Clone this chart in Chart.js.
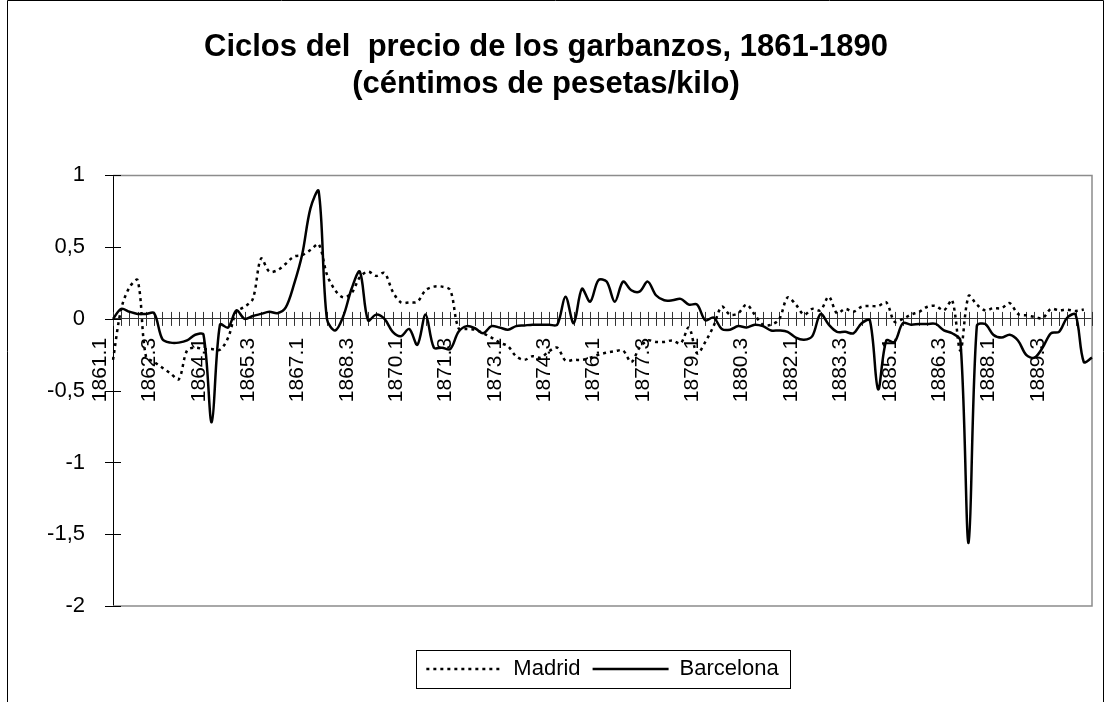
<!DOCTYPE html>
<html>
<head>
<meta charset="utf-8">
<title>Ciclos del precio de los garbanzos, 1861-1890</title>
<script src="https://cdn.jsdelivr.net/npm/chart.js@4.4.0/dist/chart.umd.min.js"></script>
<style>
    html, body { margin: 0; padding: 0; background: #fff; }
    #contenedor { width: 1105px; height: 702px; }
</style>
</head>
<body>
<div id="contenedor"><canvas id="grafico"></canvas></div>
<script>
    // trimestres 1861.1 ... 1890.4
    let anos = [];
    for (let a = 1861; a <= 1890; a++) anos.push(a);
    let trimestres = [];
    anos.forEach(a => { for (let t = 1; t <= 4; t++) trimestres.push(a + '.' + t); });

    // etiquetas que se ven en el eje (cada 6 trimestres)
    const etiquetasEje = ['1861.1', '1862.3', '1864.1', '1865.3', '1867.1', '1868.3', '1870.1',
        '1871.3', '1873.1', '1874.3', '1876.1', '1877.3', '1879.1', '1880.3', '1882.1',
        '1883.3', '1885.1', '1886.3', '1888.1', '1889.3'];

    const marcasY = [-2, -1.5, -1, -0.5, 0, 0.5, 1];

    const madrid = [
        -0.285, 0.07, 0.22, 0.27, -0.26, -0.3, -0.34, -0.38, -0.42, -0.22,
        -0.2, -0.21, -0.21, -0.215, -0.13, 0.05, 0.085, 0.14, 0.42, 0.33,
        0.34, 0.385, 0.435, 0.445, 0.48, 0.52, 0.31, 0.2, 0.15, 0.18,
        0.29, 0.33, 0.3, 0.32, 0.19, 0.115, 0.115, 0.12, 0.2, 0.225,
        0.225, 0.2, -0.065, -0.07, -0.075, -0.1, -0.13, -0.165, -0.19, -0.26,
        -0.285, -0.26, -0.27, -0.225, -0.2, -0.29, -0.285, -0.285, -0.27, -0.25,
        -0.235, -0.225, -0.22, -0.3, -0.2, -0.15, -0.16, -0.16, -0.15, -0.17,
        -0.06, -0.24, -0.16, -0.05, 0.085, 0.03, 0.04, 0.1, 0.03, -0.04,
        -0.04, 0.0, 0.15, 0.1, 0.03, 0.07, 0.06, 0.155, 0.04, 0.07,
        0.05, 0.085, 0.09, 0.09, 0.115, -0.02, 0.0, 0.03, 0.05, 0.085,
        0.09, 0.06, 0.13, -0.22, 0.16, 0.1, 0.06, 0.075, 0.075, 0.11,
        0.035, 0.025, 0.015, 0.005, 0.07, 0.06, 0.065, 0.055, 0.065, null
    ];

    const barcelona = [
        0, 0.07, 0.05, 0.035, 0.035, 0.04, -0.14, -0.165, -0.165, -0.15,
        -0.11, -0.11, -0.72, -0.04, -0.06, 0.06, 0.0, 0.02, 0.035, 0.05,
        0.04, 0.08, 0.24, 0.45, 0.77, 0.89, 0.0, -0.08, 0.02, 0.21,
        0.33, -0.01, 0.03, 0.0, -0.09, -0.12, -0.07, -0.18, 0.03, -0.2,
        -0.2, -0.21, -0.09, -0.05, -0.065, -0.1, -0.05, -0.06, -0.075, -0.05,
        -0.045, -0.04, -0.04, -0.04, -0.04, 0.155, -0.03, 0.21, 0.12, 0.27,
        0.26, 0.12, 0.26, 0.2, 0.19, 0.26, 0.165, 0.13, 0.13, 0.14,
        0.1, 0.1, -0.01, 0.01, -0.07, -0.075, -0.05, -0.06, -0.04, -0.05,
        -0.08, -0.08, -0.09, -0.13, -0.145, -0.12, 0.035, -0.04, -0.09, -0.09,
        -0.1, -0.03, -0.01, -0.49, -0.15, -0.16, -0.03, -0.04, -0.035, -0.035,
        -0.035, -0.08, -0.1, -0.15, -1.56, -0.05, -0.035, -0.11, -0.13, -0.11,
        -0.15, -0.25, -0.27, -0.2, -0.1, -0.09, 0.01, 0.03, -0.3, -0.27
    ];

    Chart.defaults.font.family = '"Liberation Sans", Arial, sans-serif';
    Chart.defaults.color = '#000';

    // marco del área de trazado, marcas cruzadas de los ejes, recuadro de leyenda y borde exterior
    const marco = {
        id: 'marco',
        beforeDatasetsDraw(chart) {
            const { ctx, chartArea: a, scales: { x, y } } = chart;
            ctx.save();
            ctx.strokeStyle = '#8c8c8c';
            ctx.lineWidth = 1.5;
            ctx.beginPath();
            ctx.moveTo(a.left, a.top); ctx.lineTo(a.right, a.top);
            ctx.lineTo(a.right, a.bottom); ctx.lineTo(a.left, a.bottom);
            ctx.stroke();

            const y0 = y.getPixelForValue(0);
            ctx.strokeStyle = '#333';
            ctx.lineWidth = 1;
            ctx.beginPath();
            for (let i = 0; i < trimestres.length; i++) {
                const px = Math.round(x.getPixelForValue(i)) + 0.5;
                ctx.moveTo(px, y0 - 7);
                ctx.lineTo(px, y0 + 7);
            }
            ctx.stroke();

            ctx.strokeStyle = '#000';
            ctx.beginPath();
            marcasY.forEach(v => {
                const py = Math.round(y.getPixelForValue(v)) + 0.5;
                ctx.moveTo(a.left - 8, py);
                ctx.lineTo(a.left + 8, py);
            });
            ctx.stroke();
            ctx.restore();
        },
        afterDraw(chart) {
            const ctx = chart.ctx;
            const cajas = chart.legend.legendHitBoxes;
            let izq = Math.min(...cajas.map(c => c.left));
            let der = Math.max(...cajas.map(c => c.left + c.width));
            ctx.save();
            ctx.strokeStyle = '#000';
            ctx.lineWidth = 1;
            ctx.strokeRect(Math.round(izq - 10) + 0.5, Math.round(cajas[0].top - 8) + 0.5,
                Math.round(der - izq + 22), Math.round(cajas[0].height + 16));
            // borde exterior del gráfico
            ctx.beginPath();
            ctx.moveTo(7.5, 702); ctx.lineTo(7.5, 0.5);
            ctx.lineTo(1103.5, 0.5); ctx.lineTo(1103.5, 702);
            ctx.stroke();
            ctx.restore();
        }
    };

    var config = {
        type: 'line',
        data: {
            labels: trimestres,
            datasets: [{
                label: 'Madrid',
                data: madrid,
                borderColor: '#000',
                backgroundColor: '#000',
                borderWidth: 2.5,
                borderDash: [3, 4],
                pointRadius: 0,
                pointStyle: 'line',
                tension: 0.33,
                spanGaps: false
            }, {
                label: 'Barcelona',
                data: barcelona,
                borderColor: '#000',
                backgroundColor: '#000',
                borderWidth: 2.5,
                pointRadius: 0,
                pointStyle: 'line',
                tension: 0.33
            }]
        },
        options: {
            responsive: true,
            maintainAspectRatio: false,
            animation: false,
            layout: { padding: { top: 0, left: 0, right: 13, bottom: 12 } },
            plugins: {
                title: {
                    display: true,
                    text: ['Ciclos del  precio de los garbanzos, 1861-1890', '(céntimos de pesetas/kilo)'],
                    font: { size: 31, weight: 'bold', lineHeight: 1.2 },
                    color: '#000',
                    padding: { top: 29, bottom: 72 }
                },
                legend: {
                    position: 'bottom',
                    fullSize: false,
                    title: { display: true, text: '', font: { size: 10 }, padding: { top: 28, bottom: 0 } },
                    labels: {
                        usePointStyle: true,
                        pointStyle: 'line',
                        pointStyleWidth: 76,
                        font: { size: 22 },
                        padding: 12,
                        color: '#000',
                        generateLabels: function (chart) {
                            const items = Chart.defaults.plugins.legend.labels.generateLabels(chart);
                            items.forEach(it => {
                                it.lineDash = chart.data.datasets[it.datasetIndex].borderDash || [];
                            });
                            return items;
                        }
                    }
                },
                tooltip: { enabled: false }
            },
            scales: {
                x: {
                    type: 'category',
                    position: { y: 0 },
                    offset: false,
                    grid: { display: false },
                    border: { display: true, color: '#333', width: 1 },
                    ticks: {
                        autoSkip: false,
                        minRotation: 90,
                        maxRotation: 90,
                        padding: 11,
                        labelOffset: -13,
                        font: { size: 21 },
                        color: '#000',
                        callback: function (val) {
                            const c = this.getLabelForValue(val);
                            return etiquetasEje.includes(c) ? c : '';
                        }
                    },
                    afterFit: function (s) { s.paddingLeft = 0; s.paddingRight = 0; }
                },
                y: {
                    min: -2,
                    max: 1,
                    grid: { display: false },
                    border: { display: true, color: '#000', width: 1 },
                    ticks: {
                        stepSize: 0.5,
                        padding: 20,
                        font: { size: 22 },
                        color: '#000',
                        callback: v => String(v).replace('.', ',')
                    },
                    afterFit: function (s) { s.width = 113; }
                }
            }
        },
        plugins: [marco]
    };

    var miGrafico = new Chart(document.getElementById('grafico'), config);
</script>
</body>
</html>
